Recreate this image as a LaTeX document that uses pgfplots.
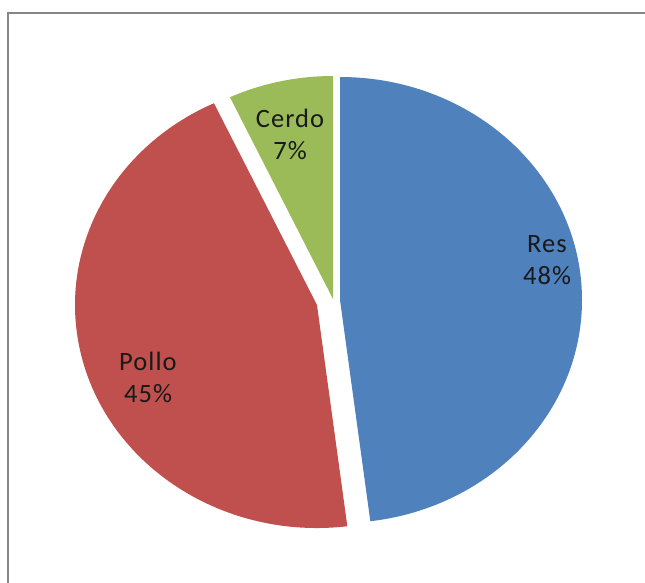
\documentclass[border=0pt]{standalone}
\usepackage{pgfplots}
\usepackage{pgfplotstable}
\pgfplotsset{compat=1.18}
\usepackage{fontspec}
\setmainfont{Carlito}
\newfontfamily\labelfont[LetterSpace=4]{Carlito}
\definecolor{pie0}{HTML}{4F81BD}
\definecolor{pie1}{HTML}{C0504D}
\definecolor{pie2}{HTML}{9BBB59}
\definecolor{framegray}{HTML}{868686}

% value (%), explode offset (px), label centre (px, image coordinates)
\pgfplotstableread{
label value dx dy lx ly
Res 48 9 -1 547 260
Pollo 45 -14 4 148 377
Cerdo 7 2 -2 290 134
}\piedata

\begin{document}
\begin{tikzpicture}
% precompute slice angles from the data (start at 90 degrees, clockwise)
\def\cumangle{90}
\pgfplotsforeachungrouped \i in {0,1,2}{%
  \pgfplotstablegetelem{\i}{value}\of\piedata
  \pgfmathsetmacro\vv{\pgfplotsretval}%
  \pgfmathsetmacro\ee{\cumangle-3.6*\vv}%
  \expandafter\xdef\csname sA\i\endcsname{\cumangle}%
  \expandafter\xdef\csname eA\i\endcsname{\ee}%
  \xdef\cumangle{\ee}%
  \pgfplotstablegetelem{\i}{dx}\of\piedata
  \expandafter\xdef\csname dX\i\endcsname{\pgfplotsretval}%
  \pgfplotstablegetelem{\i}{dy}\of\piedata
  \expandafter\xdef\csname dY\i\endcsname{\pgfplotsretval}%
  \pgfplotstablegetelem{\i}{lx}\of\piedata
  \expandafter\xdef\csname lX\i\endcsname{\pgfplotsretval}%
  \pgfplotstablegetelem{\i}{ly}\of\piedata
  \expandafter\xdef\csname lY\i\endcsname{\pgfplotsretval}%
  \pgfplotstablegetelem{\i}{label}\of\piedata
  \expandafter\xdef\csname lL\i\endcsname{\pgfplotsretval}%
  \pgfmathtruncatemacro\vt{\vv}%
  \expandafter\xdef\csname lV\i\endcsname{\vt}%
}
\begin{axis}[
  name=ax,
  width=645pt, height=583pt, scale only axis,
  xmin=0, xmax=645, ymin=0, ymax=583,
  y dir=reverse,
  hide axis,
  clip=false,
]
\pgfplotsinvokeforeach{0,1,2}{%
  \fill[pie#1]
    (axis cs:{331+\csname dX#1\endcsname},{301+\csname dY#1\endcsname})
    -- ++(\csname sA#1\endcsname:242pt and 223pt)
    arc[start angle=\csname sA#1\endcsname, end angle=\csname eA#1\endcsname,
        x radius=242pt, y radius=223pt]
    -- cycle;
  \node[align=center, text=black!90, font=\labelfont\fontsize{26.5}{32}\selectfont]
    at (axis cs:\csname lX#1\endcsname,\csname lY#1\endcsname)
    {\csname lL#1\endcsname\\\csname lV#1\endcsname\%};
}
\draw[framegray, line width=2.5pt] (axis cs:8,700) -- (axis cs:8,13) -- (axis cs:700,13);
\end{axis}
\pgfresetboundingbox
\useasboundingbox (ax.south west) rectangle (ax.north east);
\end{tikzpicture}
\end{document}
